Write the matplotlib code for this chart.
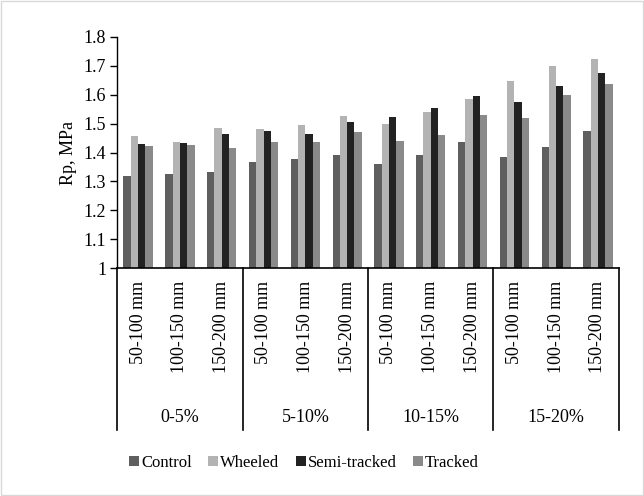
import matplotlib
matplotlib.use('agg')
import matplotlib.pyplot as plt
import matplotlib.transforms as mtransforms
from matplotlib.patches import Rectangle
import numpy as np

# data
groups = ['0-5%', '5-10%', '10-15%', '15-20%']
depths = ['50-100 mm', '100-150 mm', '150-200 mm']
series = ['Control', 'Wheeled', 'Semi-tracked', 'Tracked']
control = [1.319, 1.326, 1.334, 1.367, 1.377, 1.390, 1.360, 1.391, 1.435, 1.384, 1.419, 1.473]
wheeled = [1.457, 1.437, 1.484, 1.480, 1.495, 1.527, 1.497, 1.539, 1.585, 1.646, 1.700, 1.723]
semi_tracked = [1.431, 1.434, 1.464, 1.473, 1.464, 1.507, 1.522, 1.555, 1.596, 1.576, 1.631, 1.675]
tracked = [1.423, 1.426, 1.415, 1.435, 1.437, 1.470, 1.439, 1.461, 1.529, 1.518, 1.598, 1.636]
colors = ['#5f5f5f', '#b3b3b3', '#222222', '#8a8a8a']

plt.rcParams['font.family'] = ['Liberation Serif', 'DejaVu Serif']
fs = 13

fig = plt.figure(figsize=(6.44, 4.96), dpi=100)
ax = fig.add_axes([0.182, 0.459, 0.779, 0.467])

x = np.arange(len(control))
w = 0.175
values = [control, wheeled, semi_tracked, tracked]
for i, (name, vals) in enumerate(zip(series, values)):
    ax.bar(x + (i - 1.5) * w, np.array(vals) - 1, width=w, bottom=1,
           color=colors[i], label=name, linewidth=0)

ax.set_xlim(-0.5, len(control) - 0.5)
ax.set_ylim(1, 1.8)
yt = np.round(np.arange(1, 1.81, 0.1), 1)
ax.set_yticks(yt)
ax.set_yticklabels(['1' if v == 1 else f'{v:.1f}' for v in yt], fontsize=fs)
ax.tick_params(axis='y', length=5, width=1, pad=3)
ax.set_xticks([])
ax.set_ylabel('Rp, MPa', fontsize=fs, labelpad=5)

for s in ['top', 'right']:
    ax.spines[s].set_visible(False)
ax.spines['left'].set_linewidth(1)
ax.spines['bottom'].set_linewidth(1.2)

# two-level category axis
trans = mtransforms.blended_transform_factory(ax.transData, ax.transAxes)
for k in range(len(control)):
    ax.text(k, -0.055, depths[k % 3], rotation=90, ha='center', va='top',
            fontsize=fs, transform=trans)
for g, name in enumerate(groups):
    ax.text(g * 3 + 1, -0.645, name, ha='center', va='center',
            fontsize=fs, transform=trans)
for sep in np.arange(-0.5, len(control), 3):
    ax.plot([sep, sep], [0, -0.698], color='black', linewidth=1.2,
            transform=trans, clip_on=False)

ax.legend(loc='center', bbox_to_anchor=(304 / 644, 1 - 463 / 496),
          bbox_transform=fig.transFigure, ncol=4, frameon=False,
          fontsize=12, handlelength=0.6, handleheight=0.6,
          handletextpad=0.1, columnspacing=1.0)

fig.patches.append(Rectangle((0.002, 0.002), 0.996, 0.996, transform=fig.transFigure,
                             fill=False, edgecolor='#d9d9d9', linewidth=1))

plt.savefig('out.png', dpi=100)
